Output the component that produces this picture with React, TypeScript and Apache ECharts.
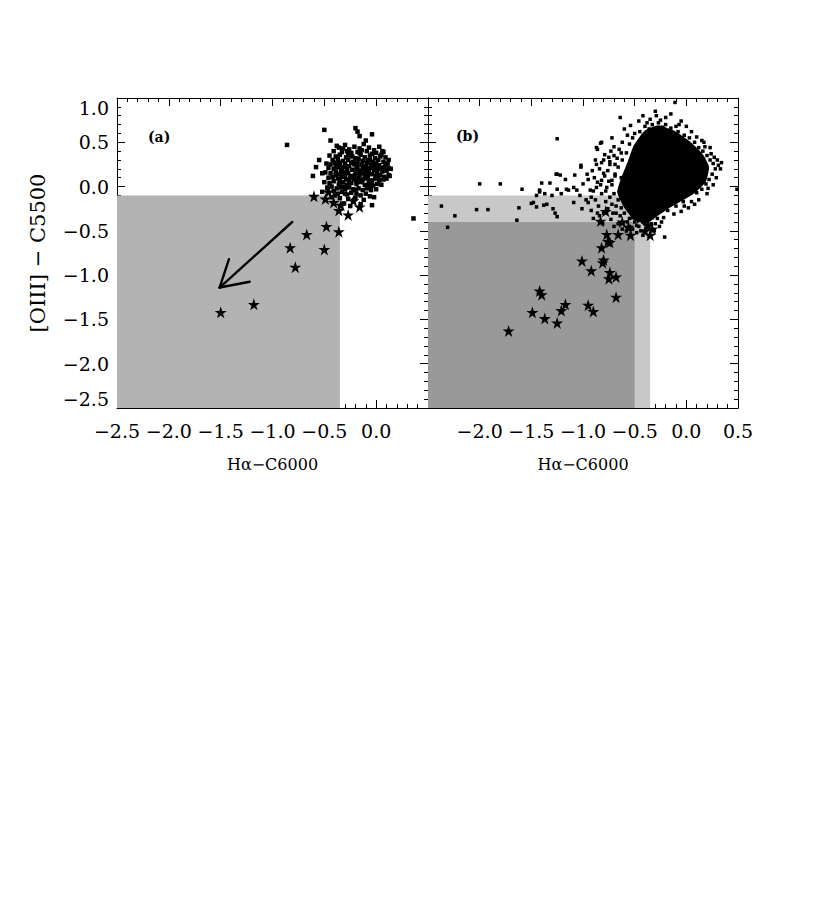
import React, { useEffect, useRef } from "react";
import * as echarts from "echarts";

// ---------- DATA ----------
const X_MIN = -2.5;
const X_MAX = 0.5;
const Y_MIN = -2.5;
const Y_MAX = 1.0;
const TICK_STEP = 0.5;

const X_TITLE = "Hα−C6000";
const Y_TITLE = "[OIII] − C5500";
const PANEL_A = "(a)";
const PANEL_B = "(b)";
const SF_LABEL = "SF Region";

// shaded regions [xmin, ymin, xmax, ymax]
const regionA = [[-2.5, -2.5, -0.35, -0.1]];
const regionBLight = [[-2.5, -2.5, -0.35, -0.1]];
const regionBDark = [[-2.5, -2.5, -0.5, -0.4]];

// arrow segments [x1, y1, x2, y2]
const arrowA = [
  [-0.81, -0.4, -1.51, -1.14],
  [-1.42, -0.82, -1.51, -1.14],
  [-1.22, -1.075, -1.51, -1.14],
];

// panel (a) galaxies (dots)
const dotsA = [
  [-0.86, 0.47], [-0.5, 0.64], [-0.2, 0.66], [-0.16, 0.57], [-0.04, 0.59], [0.36, -0.36],
  [-0.61, 0.12], [-0.52, 0.15], [-0.04, -0.21], [-0.22, -0.16], [0.1, 0.09], [0.07, 0.39],
  [-0.18, 0.62], [-0.1, 0.52], [-0.44, 0.52], [-0.55, 0.3], [-0.58, 0.22], [-0.47, -0.02],
  [0.14, 0.2], [0.12, 0.3], [0.13, 0.12], [-0.02, -0.12], [-0.3, -0.08], [-0.38, 0.46],
  [-0.36, 0.44], [-0.3, 0.47], [-0.26, 0.42], [-0.21, 0.45], [-0.16, 0.43], [-0.12, 0.48],
  [-0.07, 0.44], [-0.02, 0.41], [0.03, 0.45], [-0.41, 0.4], [-0.33, 0.39], [-0.24, 0.38],
  [-0.18, 0.39], [-0.09, 0.4], [0.0, 0.38], [0.06, 0.4], [-0.45, 0.35], [-0.39, 0.34],
  [-0.35, 0.36], [-0.29, 0.33], [-0.25, 0.35], [-0.2, 0.32], [-0.15, 0.36], [-0.11, 0.33],
  [-0.06, 0.35], [-0.01, 0.32], [0.04, 0.34], [0.09, 0.33], [-0.42, 0.3], [-0.37, 0.31],
  [-0.32, 0.29], [-0.27, 0.3], [-0.22, 0.28], [-0.17, 0.31], [-0.13, 0.29], [-0.08, 0.3],
  [-0.03, 0.28], [0.02, 0.3], [0.07, 0.28], [0.11, 0.26], [-0.48, 0.26], [-0.44, 0.25],
  [-0.4, 0.27], [-0.35, 0.24], [-0.3, 0.26], [-0.26, 0.23], [-0.21, 0.25], [-0.18, 0.22],
  [-0.14, 0.25], [-0.1, 0.23], [-0.05, 0.25], [-0.01, 0.22], [0.03, 0.24], [0.08, 0.22],
  [0.12, 0.21], [-0.46, 0.21], [-0.41, 0.2], [-0.37, 0.22], [-0.33, 0.2], [-0.28, 0.21],
  [-0.23, 0.19], [-0.19, 0.2], [-0.15, 0.18], [-0.11, 0.2], [-0.07, 0.19], [-0.02, 0.18],
  [0.02, 0.2], [0.06, 0.17], [0.1, 0.18], [-0.49, 0.16], [-0.44, 0.15], [-0.39, 0.17],
  [-0.35, 0.14], [-0.31, 0.16], [-0.27, 0.15], [-0.24, 0.12], [-0.2, 0.15], [-0.16, 0.13],
  [-0.12, 0.15], [-0.08, 0.12], [-0.04, 0.14], [0.0, 0.12], [0.04, 0.13], [0.08, 0.11],
  [0.12, 0.13], [-0.46, 0.1], [-0.42, 0.11], [-0.37, 0.09], [-0.33, 0.11], [-0.29, 0.08],
  [-0.25, 0.1], [-0.21, 0.08], [-0.17, 0.1], [-0.13, 0.08], [-0.09, 0.09], [-0.05, 0.07],
  [-0.01, 0.09], [0.03, 0.07], [0.07, 0.08], [-0.5, 0.05], [-0.45, 0.04], [-0.41, 0.06],
  [-0.36, 0.03], [-0.32, 0.05], [-0.28, 0.02], [-0.24, 0.04], [-0.19, 0.03], [-0.15, 0.05],
  [-0.11, 0.02], [-0.07, 0.04], [-0.03, 0.01], [0.01, 0.03], [0.05, 0.02], [-0.47, -0.01],
  [-0.43, 0.0], [-0.38, -0.02], [-0.34, -0.01], [-0.3, -0.03], [-0.26, -0.01], [-0.22, -0.03],
  [-0.17, -0.02], [-0.13, -0.04], [-0.09, -0.02], [-0.05, -0.04], [0.0, -0.03], [-0.52, -0.06],
  [-0.46, -0.07], [-0.41, -0.05], [-0.37, -0.08], [-0.33, -0.06], [-0.28, -0.09], [-0.24, -0.07],
  [-0.19, -0.08], [-0.15, -0.1], [-0.1, -0.08], [-0.06, -0.11], [-0.43, -0.12], [-0.35, -0.13],
  [-0.27, -0.14], [-0.2, -0.13], [-0.12, -0.15], [-0.31, -0.19], [-0.25, -0.22], [-0.15, -0.2],
  [-0.28, 0.4], [-0.23, 0.34], [-0.18, 0.27], [-0.13, 0.22], [-0.08, 0.16], [-0.03, 0.23],
  [0.01, 0.16], [-0.34, 0.18], [-0.39, 0.13], [-0.26, 0.06], [-0.21, 0.12], [-0.06, 0.3],
  [-0.16, 0.38], [0.05, 0.21], [0.09, 0.26], [-0.3, 0.12], [-0.11, 0.11], [-0.04, 0.05],
  [-0.19, 0.06], [-0.36, 0.27], [-0.32, 0.43], [-0.14, 0.41], [-0.04, 0.37], [0.05, 0.36],
  [-0.27, 0.37], [-0.09, 0.27], [-0.24, 0.27], [-0.31, 0.22], [-0.06, 0.21], [0.0, 0.26],
  [-0.39, 0.23], [-0.16, 0.16], [-0.28, 0.17], [-0.1, 0.14], [0.02, 0.11], [-0.22, 0.1],
  [-0.35, 0.07], [-0.14, 0.06], [-0.07, 0.0], [-0.2, -0.04], [-0.32, 0.0], [-0.4, -0.1],
];

// panel (a) star-forming objects (stars)
const starsA = [
  [-1.5, -1.42], [-1.18, -1.33], [-0.83, -0.69], [-0.78, -0.91], [-0.67, -0.54], [-0.5, -0.71],
  [-0.48, -0.45], [-0.36, -0.51], [-0.6, -0.11], [-0.49, -0.14], [-0.36, -0.27], [-0.34, -0.21],
  [-0.27, -0.32], [-0.22, -0.16], [-0.16, -0.23], [-0.46, -0.06], [-0.41, -0.18],
];

// panel (b): outline of the saturated core of the galaxy cloud
const coreB = [
  [-0.4, 0.62], [-0.27, 0.68], [-0.12, 0.62], [0.03, 0.5], [0.15, 0.36], [0.21, 0.22],
  [0.18, 0.06], [0.08, -0.06], [-0.06, -0.16], [-0.18, -0.24], [-0.28, -0.32], [-0.38, -0.4],
  [-0.5, -0.37], [-0.6, -0.22], [-0.66, -0.06], [-0.62, 0.1], [-0.56, 0.27], [-0.5, 0.46],
];

// panel (b) galaxies (dots) outside the saturated core
const dotsB = [
  [-2.37, -0.22], [-2.31, -0.46], [-2.24, -0.33], [-2.03, -0.26], [-2.0, 0.03], [-1.92, -0.26],
  [-1.8, 0.03], [-1.64, -0.38], [-1.62, -0.24], [-1.59, -0.03], [-1.5, -0.19], [-1.45, -0.1],
  [-1.42, -0.06], [-1.38, -0.21], [-1.32, 0.04], [-1.25, 0.54], [-1.25, 0.14], [-1.25, -0.34],
  [-1.16, -0.03], [-1.02, 0.24], [-0.87, 0.44], [-0.82, 0.5], [-0.72, 0.55], [-0.64, 0.78],
  [-0.54, 0.69], [-0.46, 0.74], [-0.35, 0.76], [-0.29, 0.8], [-0.11, 0.95], [0.49, -0.03],
  [-0.21, -0.57], [-0.9, -0.36], [-1.4, 0.04], [-1.26, 0.14], [-1.22, 0.13], [-1.17, 0.08],
  [-1.08, 0.13], [-1.02, 0.22], [-0.96, 0.14], [-0.91, 0.18], [-0.87, 0.25], [-0.82, 0.27],
  [-0.86, 0.42], [-0.83, 0.49], [-0.75, 0.33], [-0.74, 0.25], [-1.42, -0.04], [-1.37, -0.08],
  [-1.3, -0.1], [-1.25, -0.03], [-1.21, -0.08], [-1.14, -0.04], [-1.09, -0.01], [-1.06, -0.04],
  [-1.03, -0.1], [-1.0, 0.03], [-0.93, -0.04], [-0.92, -0.12], [-0.87, -0.01], [-0.82, 0.07],
  [-0.79, 0.12], [-0.77, -0.01], [-0.72, 0.07], [-0.69, 0.14], [-1.48, -0.18], [-1.45, -0.23],
  [-1.35, -0.2], [-1.29, -0.25], [-1.27, -0.3], [-1.09, -0.18], [-1.01, -0.25], [-0.95, -0.18],
  [-0.92, -0.27], [-0.84, -0.33], [-0.45, 0.62], [-0.4, 0.68], [-0.33, 0.7], [-0.27, 0.72],
  [-0.2, 0.7], [-0.15, 0.66], [-0.08, 0.62], [-0.02, 0.58], [0.03, 0.55], [-0.52, 0.55],
  [-0.55, 0.48], [-0.36, 0.65], [-0.23, 0.67], [-0.1, 0.68], [-0.3, 0.85], [-0.2, 0.78],
  [-0.05, 0.74], [0.08, 0.5], [0.12, 0.44], [0.16, 0.4], [0.2, 0.35], [0.23, 0.3],
  [0.26, 0.26], [0.28, 0.2], [0.25, 0.14], [0.22, 0.08], [0.19, 0.03], [0.15, -0.03],
  [0.1, -0.07], [0.31, 0.24], [0.27, 0.33], [0.18, 0.45], [0.21, -0.02], [0.12, -0.15],
  [0.05, -0.17], [0.24, 0.37], [-0.03, -0.17], [-0.1, -0.22], [-0.18, -0.27], [-0.22, -0.35],
  [-0.28, -0.36], [-0.05, -0.28], [-0.12, -0.31], [0.02, -0.24], [-0.58, 0.38], [-0.62, 0.3],
  [-0.66, 0.22], [-0.69, 0.12], [-0.72, 0.02], [-0.7, -0.08], [-0.66, -0.15], [-0.63, -0.24],
  [-0.6, -0.3], [-0.55, -0.36], [-0.5, -0.4], [-0.46, -0.45], [-0.42, -0.4], [-0.38, -0.48],
  [-0.34, -0.42], [-0.31, -0.5], [-0.36, -0.56], [-0.42, -0.55], [-0.48, -0.52], [-0.53, -0.28],
  [-0.57, -0.22], [-0.61, -0.12], [-0.75, 0.06], [-0.78, -0.05], [-0.76, 0.18], [-0.7, 0.35],
  [-0.65, 0.42], [-0.8, 0.3], [-0.68, -0.3], [-0.72, -0.2], [-0.66, -0.42], [-0.58, -0.5],
  [-0.52, -0.48], [-0.88, 0.3], [-0.84, 0.2], [-0.8, 0.15], [-0.86, 0.05], [-0.82, -0.08],
  [-0.88, -0.15], [-0.85, -0.22], [-0.8, -0.3], [-0.76, -0.25], [-0.74, -0.12], [-0.71, -0.3],
  [-0.69, 0.25], [-0.73, 0.4], [-0.67, 0.32], [-0.63, 0.1], [-0.6, 0.02], [-0.62, -0.03],
  [-0.64, -0.33], [-0.57, -0.4], [-0.52, -0.35], [-0.48, -0.44], [-0.44, -0.38], [-0.4, -0.42],
  [-0.79, 0.36], [-0.83, 0.02], [-0.78, -0.17], [-0.74, 0.28], [-0.7, 0.45], [-0.62, 0.5],
  [-0.57, 0.58], [-0.5, 0.6], [-0.63, 0.38], [-0.68, -0.22], [-0.73, -0.37], [-0.9, -0.05],
  [-0.95, 0.08], [-0.97, -0.15], [-0.89, 0.1], [-0.86, -0.3], [-0.81, -0.42], [-0.7, -0.45],
  [-0.62, -0.48], [-0.55, -0.45], [-0.44, -0.5], [-0.38, -0.38], [-0.3, -0.42], [-0.26, -0.45],
  [-0.24, -0.4], [-0.33, -0.35], [-0.42, 0.8], [-0.15, 0.82], [-0.07, 0.7], [0.05, 0.62],
  [-0.6, 0.65], [-0.38, 0.72], [-0.25, 0.75], [0.0, 0.68], [0.1, 0.56], [0.15, 0.52],
  [0.3, 0.3], [0.33, 0.2], [0.29, 0.1], [0.26, 0.02], [0.2, -0.08], [0.17, 0.5],
  [0.23, 0.44], [0.34, 0.27], [0.08, -0.2], [-0.02, -0.22],
];

// panel (b) star-forming objects (stars)
const starsB = [
  [-0.78, -0.28], [-0.83, -0.39], [-0.66, -0.54], [-0.77, -0.54], [-0.54, -0.55], [-0.76, -0.62],
  [-0.74, -0.63], [-0.82, -0.69], [-1.01, -0.84], [-0.8, -0.83], [-0.81, -0.86], [-0.92, -0.95],
  [-0.74, -0.97], [-0.68, -1.02], [-0.75, -1.04], [-1.42, -1.18], [-1.4, -1.22], [-0.68, -1.25],
  [-1.17, -1.33], [-1.21, -1.4], [-0.95, -1.34], [-0.9, -1.41], [-1.49, -1.42], [-1.37, -1.49],
  [-1.25, -1.54], [-1.72, -1.63], [-0.45, -0.36], [-0.37, -0.44], [-0.35, -0.55], [-0.56, -0.46],
  [-0.4, -0.5], [-0.33, -0.48], [-0.62, -0.4],
];

// ---------- STYLE ----------
const FONT = "DejaVu Serif";
const STAR =
  "path://M50,2 L61,36 L97,36 L68,57 L79,92 L50,70 L21,92 L32,57 L3,36 L39,36 Z";

function fmt(v: number) {
  const s = Math.abs(v).toFixed(1);
  return (v < -1e-9 ? "−" : "") + s;
}

function rectSeries(data: number[][], color: string, xi: number, z: number) {
  return {
    type: "custom",
    xAxisIndex: xi,
    yAxisIndex: xi,
    z,
    silent: true,
    data,
    encode: { x: [0, 2], y: [1, 3] },
    renderItem: (_p: any, api: any) => {
      const a = api.coord([api.value(0), api.value(1)]);
      const b = api.coord([api.value(2), api.value(3)]);
      return {
        type: "rect",
        shape: { x: a[0], y: b[1], width: b[0] - a[0], height: a[1] - b[1] },
        style: { fill: color },
      };
    },
  };
}

export default function App() {
  const ref = useRef<HTMLDivElement>(null);
  useEffect(() => {
    if (!ref.current) return;
    const chart = echarts.init(ref.current, null, { renderer: "svg" });

    const tickCommon = {
      axisLine: { show: true, onZero: false, lineStyle: { color: "#000", width: 1 } },
      axisTick: { show: true, inside: true, length: 8, lineStyle: { color: "#000" } },
      minorTick: { show: true, splitNumber: 5, length: 4, lineStyle: { color: "#000" } },
      splitLine: { show: false },
    };
    const xBase = { type: "value", min: X_MIN, max: X_MAX, interval: TICK_STEP, ...tickCommon };
    const yBase = { type: "value", min: Y_MIN, max: Y_MAX, interval: TICK_STEP, ...tickCommon };
    const labelStyle = { color: "#000", fontFamily: FONT, fontSize: 19 };
    const xName = { color: "#000", fontFamily: FONT, fontSize: 16 };

    const xAxis = [
      {
        ...xBase,
        gridIndex: 0,
        position: "bottom",
        axisLabel: { ...labelStyle, margin: 13, formatter: (v: number) => (v > 0.25 ? "" : fmt(v)) },
        name: X_TITLE,
        nameLocation: "middle",
        nameGap: 48,
        nameTextStyle: xName,
      },
      { ...xBase, gridIndex: 0, position: "top", axisLabel: { show: false } },
      {
        ...xBase,
        gridIndex: 1,
        position: "bottom",
        axisLabel: { ...labelStyle, margin: 13, formatter: (v: number) => (v < -2.25 ? "" : fmt(v)) },
        name: X_TITLE,
        nameLocation: "middle",
        nameGap: 48,
        nameTextStyle: xName,
      },
      { ...xBase, gridIndex: 1, position: "top", axisLabel: { show: false } },
    ];
    const yAxis = [
      {
        ...yBase,
        gridIndex: 0,
        position: "left",
        axisLabel: {
          ...labelStyle,
          margin: 8,
          formatter: fmt,
          verticalAlignMinLabel: "bottom",
          verticalAlignMaxLabel: "top",
        },
        name: Y_TITLE,
        nameLocation: "middle",
        nameRotate: 90,
        nameGap: 69,
        nameTextStyle: { color: "#000", fontFamily: FONT, fontSize: 21 },
      },
      { ...yBase, gridIndex: 0, position: "right", axisLabel: { show: false } },
      { ...yBase, gridIndex: 1, position: "left", axisLabel: { show: false } },
      { ...yBase, gridIndex: 1, position: "right", axisLabel: { show: false } },
    ];

    const dotStyle = { color: "#000", opacity: 1 };

    const option: any = {
      animation: false,
      backgroundColor: "#fff",
      grid: [
        { left: 117, top: 98, width: 311, height: 310 },
        { left: 428, top: 98, width: 310, height: 310 },
      ],
      xAxis,
      yAxis,
      graphic: [
        { type: "text", left: 148, top: 130, style: { text: PANEL_A, font: `bold 14px '${FONT}'`, fill: "#000" } },
        { type: "text", left: 456, top: 129, style: { text: PANEL_B, font: `bold 14px '${FONT}'`, fill: "#000" } },
        { type: "text", left: 219, top: 201, style: { text: SF_LABEL, font: `bold 13px '${FONT}'`, fill: "#000" } },
      ],
      series: [
        rectSeries(regionA, "#b3b3b3", 0, 1),
        rectSeries(regionBLight, "#c8c8c8", 2, 1),
        rectSeries(regionBDark, "#999999", 2, 2),
        {
          type: "custom",
          xAxisIndex: 0,
          yAxisIndex: 0,
          z: 5,
          silent: true,
          data: arrowA,
          encode: { x: [0, 2], y: [1, 3] },
          renderItem: (_p: any, api: any) => {
            const a = api.coord([api.value(0), api.value(1)]);
            const b = api.coord([api.value(2), api.value(3)]);
            return {
              type: "line",
              shape: { x1: a[0], y1: a[1], x2: b[0], y2: b[1] },
              style: { stroke: "#000", lineWidth: 2.4, lineCap: "round" },
            };
          },
        },
        {
          type: "custom",
          xAxisIndex: 2,
          yAxisIndex: 2,
          z: 5,
          silent: true,
          data: coreB,
          renderItem: (p: any, api: any) => {
            if (p.dataIndex !== 0) return null;
            const pts = coreB.map((d) => api.coord(d));
            return {
              type: "polygon",
              shape: { points: pts, smooth: 0.15 },
              style: { fill: "#000", stroke: "#000", lineWidth: 2 },
            };
          },
        },
        {
          type: "scatter",
          xAxisIndex: 0,
          yAxisIndex: 0,
          z: 6,
          data: dotsA,
          symbol: "rect",
          symbolSize: 4.5,
          itemStyle: dotStyle,
        },
        {
          type: "scatter",
          xAxisIndex: 2,
          yAxisIndex: 2,
          z: 6,
          data: dotsB,
          symbol: "rect",
          symbolSize: 3.5,
          itemStyle: dotStyle,
        },
        {
          type: "scatter",
          xAxisIndex: 0,
          yAxisIndex: 0,
          z: 7,
          data: starsA,
          symbol: STAR,
          symbolSize: 12,
          itemStyle: dotStyle,
        },
        {
          type: "scatter",
          xAxisIndex: 2,
          yAxisIndex: 2,
          z: 7,
          data: starsB,
          symbol: STAR,
          symbolSize: 12,
          itemStyle: dotStyle,
        },
      ],
    };
    chart.setOption(option);
    return () => chart.dispose();
  }, []);

  return (
    <div
      ref={ref}
      style={{ position: "absolute", left: 0, top: 0, width: 817, height: 915, background: "#fff" }}
    />
  );
}
